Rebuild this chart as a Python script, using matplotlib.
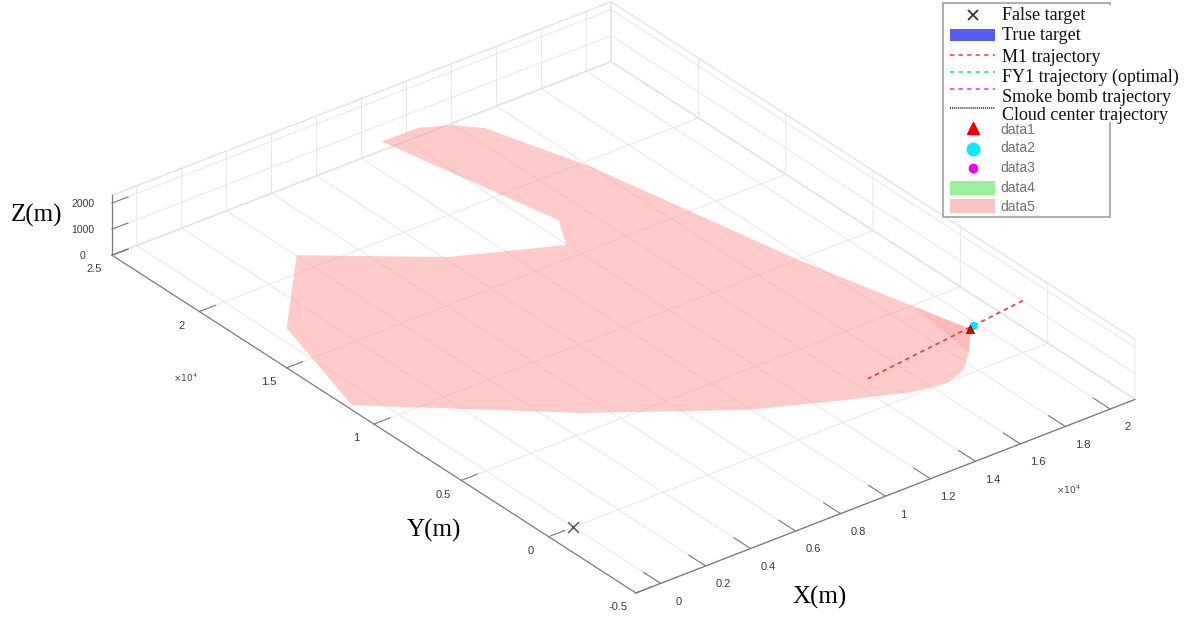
import numpy as np
import matplotlib
matplotlib.use("Agg")
import matplotlib.pyplot as plt
from matplotlib.lines import Line2D
from matplotlib.patches import Rectangle
from mpl_toolkits.mplot3d import proj3d
from mpl_toolkits.mplot3d.art3d import Poly3DCollection

# ---------------- data ----------------
false_target = [0, 0, 0]
m1_start = [20000, 0, 2000]
m1_end = [13100, 0, 1310]
missile_pos = [17650, 0, 1700]      # data1
fy1_pos = [17800, 0, 1760]          # data2

region_x = [10740, 12390, 13940, 14730, 16020, 17760, 18950, 17650, 18500, 17630,
            16620, 15290, 13110, 9900, 5140, -900, 610, 4030, 8170, 11960, 12820]
region_y = [24800, 24800, 24900, 24040, 19580, 9990, 4900, 0, 1170, 330,
            -40, 185, 1160, 2750, 6160, 11530, 17200, 21030, 17660, 15800, 17350]
region_z = [490, 470, 0, 0, 0, 0, 0, 1700, 0, 0,
            0, 0, 0, 0, 0, 0, 0, 0, 0, 0, 0]

wedge_x = [17650, 18430, 18950, 18500]
wedge_y = [0, 7250, 4900, 1170]
wedge_z = [1700, 0, 0, 0]

x_ticks = [0, 2000, 4000, 6000, 8000, 10000, 12000, 14000, 16000, 18000, 20000]
x_tick_labels = ['0', '0.2', '0.4', '0.6', '0.8', '1', '1.2', '1.4', '1.6', '1.8', '2']
y_ticks = [-5000, 0, 5000, 10000, 15000, 20000, 25000]
y_tick_labels = ['-0.5', '0', '0.5', '1', '1.5', '2', '2.5']
z_ticks = [0, 1000, 2000]
z_tick_labels = ['0', '1000', '2000']

legend_labels = ['False target', 'True target', 'M1 trajectory', 'FY1 trajectory (optimal)',
                 'Smoke bomb trajectory', 'Cloud center trajectory',
                 'data1', 'data2', 'data3', 'data4', 'data5']

XLIM = (-1100, 21100)
YLIM = (-5000, 25000)
ZLIM = (0, 2300)

# ---------------- figure ----------------
W, H = 1192, 619
plt.rcParams['grid.color'] = '#e4e4e4'
plt.rcParams['grid.linewidth'] = 0.6
plt.rcParams['font.family'] = ['Liberation Sans', 'DejaVu Sans']

fig = plt.figure(figsize=(W / 100, H / 100), dpi=100)
fig.patch.set_facecolor('white')
ax = fig.add_axes([0.1, 0.1, 0.5, 0.5], projection='3d', proj_type='ortho')
ax.computed_zorder = False
ax.set_box_aspect((1, 1.3535, 0.1095))
ax.view_init(elev=30, azim=-127.8)
ax.set_xlim(*XLIM)
ax.set_ylim(*YLIM)
ax.set_zlim(*ZLIM)

for axis in (ax.xaxis, ax.yaxis, ax.zaxis):
    axis.set_pane_color((1, 1, 1, 1))
    axis.pane.set_edgecolor('#e4e4e4')
    axis.line.set_color('#7a7a7a')
    axis.line.set_linewidth(0.9)
    axis._axinfo['tick']['inward_factor'] = 0.0
    axis._axinfo['tick']['outward_factor'] = 0.4
    axis._axinfo['tick']['linewidth'] = {True: 0.8, False: 0.5}

ax.set_xticks(x_ticks)
ax.set_xticklabels(x_tick_labels)
ax.set_yticks(y_ticks)
ax.set_yticklabels(y_tick_labels)
ax.set_zticks(z_ticks)
ax.set_zticklabels(z_tick_labels)
ax.tick_params(axis='x', labelsize=8, colors='#7a7a7a', labelcolor='#3a3a3a', pad=5)
ax.tick_params(axis='y', labelsize=8, colors='#7a7a7a', labelcolor='#3a3a3a', pad=6)
ax.tick_params(axis='z', labelsize=7.5, colors='#7a7a7a', labelcolor='#3a3a3a', pad=3)

# region (data5)
verts = [list(zip(region_x, region_y, region_z))]
poly = Poly3DCollection(verts, facecolor='#ff9a9a', edgecolor='none', alpha=0.52, zorder=1)
ax.add_collection3d(poly)
wverts = [list(zip(wedge_x, wedge_y, wedge_z))]
wpoly = Poly3DCollection(wverts, facecolor='#ff9a9a', edgecolor='none', alpha=0.35, zorder=1.1)
ax.add_collection3d(wpoly)

# M1 trajectory
ax.plot([m1_start[0], m1_end[0]], [m1_start[1], m1_end[1]], [m1_start[2], m1_end[2]],
        color='#e04848', lw=1.3, ls=(0, (2.5, 2.2)), zorder=2)
# points
ax.scatter([fy1_pos[0]], [fy1_pos[1]], [fy1_pos[2]], marker='o', s=36, color='#00e5ff',
           depthshade=False, zorder=3, edgecolors='none')
ax.scatter([missile_pos[0]], [missile_pos[1]], [missile_pos[2]], marker='^', s=34,
           color='#e00000', edgecolors='#700000', linewidths=0.5, depthshade=False, zorder=4)
ax.scatter([false_target[0]], [false_target[1]], [false_target[2]], marker='x', s=60,
           color='#505050', linewidths=1.0, depthshade=False, zorder=4)

ax.set_xlabel('')
ax.set_ylabel('')
ax.set_zlabel('')

# ---------- fit axes so the box lands where it should ----------
targets = np.array([[635, H - 593], [1135, H - 402], [112, H - 255], [113, H - 193]], float)
corners = [(XLIM[0], YLIM[0], ZLIM[0]), (XLIM[1], YLIM[0], ZLIM[0]),
           (XLIM[0], YLIM[1], ZLIM[0]), (XLIM[0], YLIM[1], ZLIM[1])]

def corner_px():
    pts = []
    for (x, y, z) in corners:
        xs, ys, _ = proj3d.proj_transform(np.array([x]), np.array([y]), np.array([z]), ax.M)
        pts.append(ax.transData.transform((xs[0], ys[0])))
    return np.array(pts)

for _ in range(2):
    fig.canvas.draw()
    bb = ax.bbox
    P = corner_px() - np.array([bb.x0, bb.y0])
    Pm, Qm = P.mean(0), targets.mean(0)
    k = np.sum((P - Pm) * (targets - Qm)) / np.sum((P - Pm) ** 2)
    t = Qm - k * Pm
    ax.set_position([t[0] / W, t[1] / H, k * bb.width / W, k * bb.height / H])

# ---------- axis titles & multipliers ----------
def fx(px):
    return px / W

def fy(py):
    return 1 - py / H

serif = ['Liberation Serif', 'DejaVu Serif']
fig.text(fx(36), fy(215), 'Z(m)', family=serif, fontsize=18, ha='center', va='center')
fig.text(fx(434), fy(530), 'Y(m)', family=serif, fontsize=18, ha='center', va='center')
fig.text(fx(820), fy(597), 'X(m)', family=serif, fontsize=18, ha='center', va='center')
fig.text(fx(185), fy(378), r'$\times10^{4}$', fontsize=6.5, color='#444444', ha='center', va='center')
fig.text(fx(1068), fy(490), r'$\times10^{4}$', fontsize=6.5, color='#444444', ha='center', va='center')

# ---------- legend (drawn in figure pixels) ----------
def frect(x0, y0, x1, y1, **kw):
    return Rectangle((fx(x0), fy(y1)), fx(x1) - fx(x0), fy(y0) - fy(y1),
                     transform=fig.transFigure, **kw)

fig.patches.append(frect(943, 3, 1110, 217, facecolor='white', edgecolor='#a0a0a0', lw=1.2, zorder=10))
fig.patches.append(frect(1105, 5, 1192, 122, facecolor='white', edgecolor='none', zorder=11))

hx0, hx1 = 950, 995
rows = [15, 35, 55, 72, 89, 108, 128, 149, 168, 188, 206]

def fline(y, **kw):
    fig.lines.append(Line2D([fx(hx0), fx(hx1)], [fy(y), fy(y)], transform=fig.transFigure,
                            zorder=12, **kw))

def fmark(y, **kw):
    fig.lines.append(Line2D([fx((hx0 + hx1) / 2)], [fy(y)], transform=fig.transFigure,
                            ls='none', zorder=12, **kw))

fmark(rows[0], marker='x', ms=7, mew=1.3, color='#333333')
fig.patches.append(frect(hx0, rows[1] - 6, hx1, rows[1] + 6, facecolor='#5a5cf6', edgecolor='none', zorder=12))
fline(rows[2], color='#f06262', lw=1.4, ls=(0, (2.2, 2.2)))
fline(rows[3], color='#3fe3e3', lw=1.4, ls=(0, (2.2, 2.2)))
fline(rows[4], color='#e060e8', lw=1.4, ls=(0, (2.2, 2.2)))
fline(rows[5], color='#444444', lw=1.4, ls=(0, (0.5, 0.5)))
fmark(rows[6], marker='^', ms=9, color='#ee0000', mec='#ee0000')
fmark(rows[7], marker='o', ms=9, color='#00eeff', mec='#00eeff')
fmark(rows[8], marker='o', ms=6, color='#ee00ee', mec='#ee00ee')
fig.patches.append(frect(hx0, rows[9] - 7, hx1, rows[9] + 7, facecolor='#9cf09c', edgecolor='none', zorder=12))
fig.patches.append(frect(hx0, rows[10] - 7, hx1, rows[10] + 7, facecolor='#f8c4c4', edgecolor='none', zorder=12))

text_rows = [15, 35, 57, 77, 97, 116, 130, 148, 168, 188, 207]
for i, (lab, y) in enumerate(zip(legend_labels, text_rows)):
    if i < 6:
        fig.text(fx(1002), fy(y), lab, family=serif, fontsize=13, color='#111111',
                 ha='left', va='center', zorder=13)
    else:
        fig.text(fx(1000), fy(y), lab, fontsize=10, color='#707070',
                 ha='left', va='center', zorder=13)

fig.savefig('out.png', dpi=100, facecolor='white')
